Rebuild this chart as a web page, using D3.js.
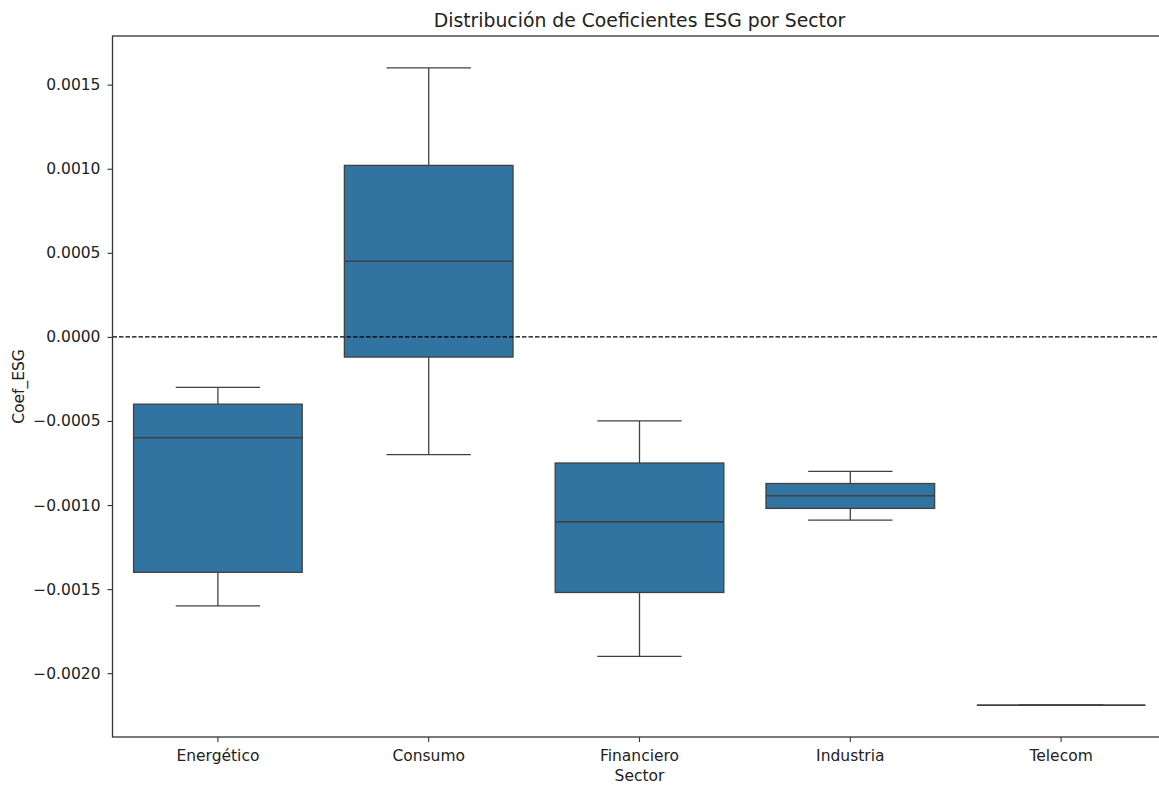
<!DOCTYPE html>
<html>
<head>
<meta charset="utf-8">
<script src="https://cdn.jsdelivr.net/npm/d3@7"></script>
<style>
  html, body { margin: 0; padding: 0; background: #fff; }
  svg { display: block; font-family: "DejaVu Sans", sans-serif; }
</style>
</head>
<body>
<svg id="chart" width="1159" height="786"></svg>
<script>
// Sector boxplot summaries of the ESG coefficient
const sectors = ["Energético", "Consumo", "Financiero", "Industria", "Telecom"];
const whiskerLow  = [-0.0016, -0.0007,  -0.0019,  -0.00109, -0.00219];
const q1          = [-0.0014, -0.00012, -0.00152, -0.00102, -0.00219];
const median      = [-0.0006,  0.00045, -0.0011,  -0.000945, -0.00219];
const q3          = [-0.0004,  0.00102, -0.00075, -0.000872, -0.00219];
const whiskerHigh = [-0.0003,  0.0016,  -0.0005,  -0.0008,  -0.00219];
const yTicks = [-0.002, -0.0015, -0.001, -0.0005, 0, 0.0005, 0.001, 0.0015];

const title = "Distribución de Coeficientes ESG por Sector";
const xLabel = "Sector";
const yLabel = "Coef_ESG";

const rows = sectors.map((s, i) => ({
  sector: s, lo: whiskerLow[i], q1: q1[i], med: median[i], q3: q3[i], hi: whiskerHigh[i]
}));

const svg = d3.select("#chart");
const margin = { left: 112.5, right: 1166.5, top: 36, bottom: 737 };

const x = d3.scaleBand().domain(sectors).range([margin.left, margin.right]).padding(0);
const allVals = whiskerLow.concat(whiskerHigh);
const yMin = d3.min(allVals), yMax = d3.max(allVals);
const pad = (yMax - yMin) * 0.05;
const y = d3.scaleLinear().domain([yMin - pad, yMax + pad]).range([margin.bottom, margin.top]);

const boxColor = "#3274a1";
const lineColor = "#404040";
const bw = x.bandwidth();
const boxW = bw * 0.8;
const capW = bw * 0.4;

const g = svg.append("g");

// Boxes and whiskers
const box = g.selectAll("g.box").data(rows).join("g").attr("class", "box");
const cx = d => x(d.sector) + bw / 2;

box.append("line")
  .attr("x1", cx).attr("x2", cx)
  .attr("y1", d => y(d.q3)).attr("y2", d => y(d.hi))
  .attr("stroke", lineColor).attr("stroke-width", 1.3);
box.append("line")
  .attr("x1", cx).attr("x2", cx)
  .attr("y1", d => y(d.q1)).attr("y2", d => y(d.lo))
  .attr("stroke", lineColor).attr("stroke-width", 1.3);
box.append("line")
  .attr("x1", d => cx(d) - capW / 2).attr("x2", d => cx(d) + capW / 2)
  .attr("y1", d => y(d.hi)).attr("y2", d => y(d.hi))
  .attr("stroke", lineColor).attr("stroke-width", 1.3);
box.append("line")
  .attr("x1", d => cx(d) - capW / 2).attr("x2", d => cx(d) + capW / 2)
  .attr("y1", d => y(d.lo)).attr("y2", d => y(d.lo))
  .attr("stroke", lineColor).attr("stroke-width", 1.3);
box.append("rect")
  .attr("x", d => cx(d) - boxW / 2)
  .attr("width", boxW)
  .attr("y", d => y(d.q3))
  .attr("height", d => Math.max(0, y(d.q1) - y(d.q3)))
  .attr("fill", boxColor)
  .attr("stroke", lineColor).attr("stroke-width", 1.3);
box.append("line")
  .attr("x1", d => cx(d) - boxW / 2).attr("x2", d => cx(d) + boxW / 2)
  .attr("y1", d => y(d.med)).attr("y2", d => y(d.med))
  .attr("stroke", lineColor).attr("stroke-width", 1.6);

// Zero reference line
g.append("line")
  .attr("x1", margin.left).attr("x2", margin.right)
  .attr("y1", y(0)).attr("y2", y(0))
  .attr("stroke", "#000").attr("stroke-width", 1.3)
  .attr("stroke-dasharray", "4.5,2");

// Axes
const yAxis = d3.axisLeft(y).tickValues(yTicks).tickFormat(d3.format(".4f")).tickSize(5).tickPadding(7);
const xAxis = d3.axisBottom(x).tickSize(5).tickPadding(8);

const gy = svg.append("g").attr("transform", `translate(${margin.left},0)`).call(yAxis);
const gx = svg.append("g").attr("transform", `translate(0,${margin.bottom})`).call(xAxis);
[gx, gy].forEach(a => {
  a.select(".domain").remove();
  a.selectAll(".tick line").attr("stroke", "#333").attr("stroke-width", 1.1);
  a.selectAll(".tick text").attr("fill", "#222").style("font-size", "15.5px")
    .style("font-family", "'DejaVu Sans', sans-serif");
});

// Frame
svg.append("rect")
  .attr("x", margin.left).attr("y", margin.top)
  .attr("width", margin.right - margin.left).attr("height", margin.bottom - margin.top)
  .attr("fill", "none").attr("stroke", "#333").attr("stroke-width", 1.3);

// Labels
svg.append("text")
  .attr("x", (margin.left + margin.right) / 2).attr("y", 26.5)
  .attr("text-anchor", "middle").attr("fill", "#222")
  .style("font-size", "18.8px").text(title);
svg.append("text")
  .attr("x", (margin.left + margin.right) / 2).attr("y", 781)
  .attr("text-anchor", "middle").attr("fill", "#222")
  .style("font-size", "15.5px").text(xLabel);
svg.append("text")
  .attr("transform", `translate(24,${(margin.top + margin.bottom) / 2}) rotate(-90)`)
  .attr("text-anchor", "middle").attr("fill", "#222")
  .style("font-size", "15.5px").text(yLabel);
</script>
</body>
</html>
